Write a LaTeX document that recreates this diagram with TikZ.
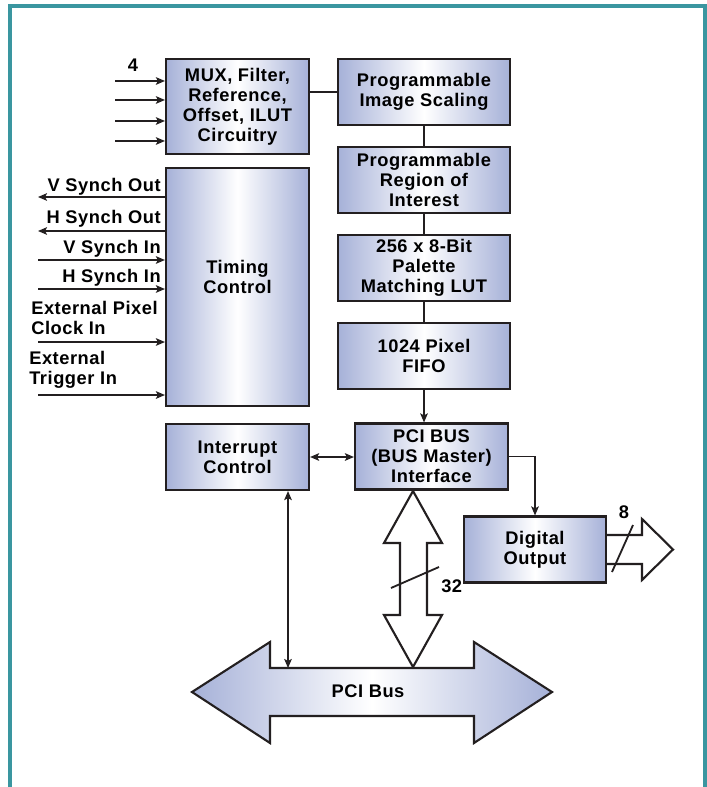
\documentclass[tikz,border=0pt]{standalone}
\usepackage{fontspec}
\setmainfont{Liberation Sans}[LetterSpace=3]
\usetikzlibrary{arrows.meta,positioning,calc}
\definecolor{bxInk}{HTML}{231F20}
\definecolor{bxSteel}{HTML}{A6B1D8}
\definecolor{bxTeal}{HTML}{3A96A0}
\newcommand{\bxfont}{\fontsize{13}{14.2}\selectfont\bfseries}
\tikzset{
  blk/.style={draw=bxInk, line width=1.5pt, left color=bxSteel, right color=bxSteel, middle color=white, inner sep=2pt, align=center, font=\bxfont},
  blkR/.style={blk, minimum width=4.3cm, minimum height=1.65cm},
  blkL/.style={blk, minimum width=3.575cm, minimum height=1.65cm},
  lbl/.style={inner sep=0pt, font=\bxfont, align=left},
  arr/.style={-{Stealth[length=6.5pt,width=5.5pt,inset=1.5pt]}, line width=0.8pt, draw=bxInk},
  arrb/.style={{Stealth[length=6.5pt,width=5.5pt,inset=1.5pt]}-{Stealth[length=6.5pt,width=5.5pt,inset=1.5pt]}, line width=0.8pt, draw=bxInk},
  wire/.style={line width=0.8pt, draw=bxInk},
  hollow/.style={draw=bxInk, line width=1.5pt, fill=white, line join=miter},
  busarr/.style={draw=bxInk, line width=1.5pt, left color=bxSteel, right color=bxSteel, middle color=white, line join=miter},
  tick/.style={line width=1.3pt, draw=bxInk},
  frm/.style={draw=bxTeal, line width=2.2pt},
}
\begin{document}
\begin{tikzpicture}[x=0.025cm, y=-0.025cm, node distance=0.5cm]
  \useasboundingbox (0,0) rectangle (707,787);
  \draw[frm] (10,800) -- (10,6) -- (705,6) -- (705,800);

  % right column
  \node[blkR] (scale) at (424,92) {Programmable\\Image Scaling};
  \node[blkR, below=of scale] (roi) {Programmable\\Region of\\Interest};
  \node[blkR, below=of roi] (lut) {256 x 8-Bit\\Palette\\Matching LUT};
  \node[blkR, below=of lut] (fifo) {1024 Pixel\\FIFO};
  \node[blk, minimum width=3.825cm, minimum height=1.65cm] (pci) at (431.5,456.5) {PCI BUS\\(BUS Master)\\Interface};
  \node[blk, minimum width=3.55cm, minimum height=1.65cm] (dout) at (535,549.5) {Digital\\Output};

  % left column
  \node[blkL, minimum height=2.375cm] (mux) at (237.5,106.5) {MUX, Filter,\\Reference,\\Offset, ILUT\\Circuitry};
  \node[blkL, minimum height=5.95cm] (timing) at (237.5,287) {};
  \node[lbl, align=center] (timingT) at ($(timing)+(0,-10)$) {Timing\\Control};
  \node[blkL] (irq) at (237.5,457) {Interrupt\\Control};

  \foreach \u/\v in {scale/roi,roi/lut,lut/fifo} \draw[wire] (\u) -- (\v);
  \draw[wire] (mux.east |- scale.west) -- (scale.west);
  \draw[arr] (fifo.south) -- (fifo.south |- pci.north);
  \draw[arrb] (irq.east) -- (irq.east -| pci.west);
  \draw[arr] (pci.east) -| (dout.north);

  % inputs to mux
  \foreach \i/\yy in {1/81,2/100,3/121,4/141} {
    \coordinate (in\i) at (115,\yy);
    \draw[arr] (in\i) -- (in\i -| mux.west);
  }
  \node[lbl, anchor=base] (nmux) at (133,72) {4};

  % timing signals
  \coordinate (vso) at (38,197);
  \coordinate (hso) at (38,231);
  \coordinate (vsi) at (38,260);
  \coordinate (hsi) at (38,289);
  \coordinate (pck) at (38,342);
  \coordinate (trg) at (38,395);
  \draw[arr] (vso -| timing.west) -- (vso);
  \draw[arr] (hso -| timing.west) -- (hso);
  \foreach \s in {vsi,hsi,pck,trg} \draw[arr] (\s) -- (\s -| timing.west);
  \node[lbl, anchor=base east] (vsoL) at (161,192) {V Synch Out};
  \node[lbl, anchor=base east] (hsoL) at (161,223) {H Synch Out};
  \node[lbl, anchor=base east] (vsiL) at (161,253) {V Synch In};
  \node[lbl, anchor=base east] (hsiL) at (161,282) {H Synch In};
  \node[lbl, anchor=west] (pckL) at (31,318) {External Pixel\\Clock In};
  \node[lbl, anchor=west] (trgL) at (29,370) {External\\Trigger In};

  % PCI bus
  \draw[busarr] (192,692) -- (270,642) -- (270,668) -- (474,668) -- (474,642) -- (552,692)
    -- (474,743) -- (474,716) -- (270,716) -- (270,743) -- cycle;
  \node[lbl] (bus) at (368,691) {PCI Bus};
  \coordinate (bustop) at (288,668);
  \draw[arrb] (irq.south -| bustop) -- (bustop);

  % 32-bit path
  \draw[hollow] (413,491) -- (442,543) -- (427,543) -- (427,615) -- (442,615) -- (413,667)
    -- (384,615) -- (400,615) -- (400,543) -- (384,543) -- cycle;
  \draw[tick] (391,588) -- (439,567);
  \node[lbl, anchor=base west] (w32) at (441,592) {32};

  % digital out
  \draw[hollow] (dout.east |- 0,535) -- (642,535) -- (642,519) -- (673,549.5) -- (642,580) -- (642,564) -- (dout.east |- 0,564);
  \draw[tick] (612,572) -- (633,525);
  \node[lbl, anchor=base] (w8) at (624,518) {8};
\end{tikzpicture}
\end{document}
